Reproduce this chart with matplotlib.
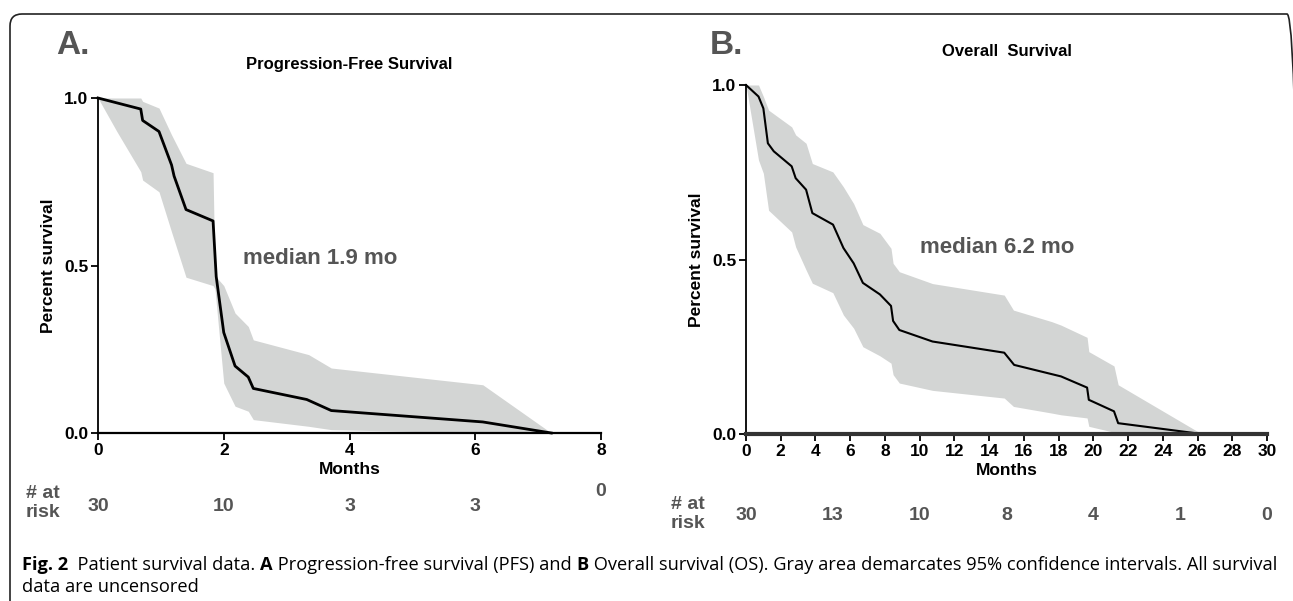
import matplotlib
matplotlib.use("Agg")
import matplotlib.pyplot as plt
from matplotlib.patches import FancyBboxPatch
from matplotlib.transforms import IdentityTransform

plt.rcParams['font.family'] = ['Liberation Sans Narrow', 'Liberation Sans', 'DejaVu Sans']

# progression-free survival (connected KM points) and 95% CI
pfs_t = [0, 0.68, 0.71, 0.97, 1.17, 1.21, 1.40, 1.83, 1.88, 2.0, 2.18, 2.39, 2.47, 3.32, 3.71, 6.12, 7.21]
pfs_s = [1.0, 0.967, 0.933, 0.90, 0.80, 0.767, 0.667, 0.633, 0.467, 0.30, 0.20, 0.167, 0.133, 0.10, 0.067, 0.033, 0.0]
pfs_ci_t = [0, 0.30, 0.68, 0.71, 0.97, 1.17, 1.40, 1.83, 1.86, 2.0, 2.18, 2.39, 2.47, 3.35, 3.71, 6.12, 7.21]
pfs_hi = [1.0, 1.0, 1.0, 0.99, 0.97, 0.89, 0.805, 0.777, 0.47, 0.44, 0.358, 0.318, 0.278, 0.234, 0.194, 0.144, 0.0]
pfs_lo = [1.0, 0.90, 0.78, 0.755, 0.72, 0.60, 0.465, 0.44, 0.43, 0.149, 0.08, 0.065, 0.04, 0.02, 0.01, 0.0, 0.0]

# overall survival and 95% CI
os_t = [0, 0.72, 1.0, 1.26, 1.6, 2.63, 2.86, 3.46, 3.82, 5.01, 5.61, 6.2, 6.73, 7.71, 8.35, 8.47, 8.83,
        10.74, 14.87, 15.44, 18.14, 19.64, 19.74, 21.19, 21.43, 26.25]
os_s = [1.0, 0.967, 0.933, 0.833, 0.81, 0.767, 0.733, 0.70, 0.633, 0.60, 0.533, 0.489, 0.433, 0.40, 0.367,
        0.324, 0.298, 0.265, 0.233, 0.198, 0.165, 0.133, 0.098, 0.065, 0.031, 0.0]
os_ci_t = [0, 0.72, 1.0, 1.3, 2.63, 2.86, 3.46, 3.82, 5.0, 5.61, 6.2, 6.73, 7.71, 8.35, 8.47, 8.83,
           10.74, 14.87, 15.4, 17.6, 18.14, 19.64, 19.74, 21.19, 21.43, 26.25]
os_hi = [1.0, 1.0, 0.967, 0.928, 0.88, 0.857, 0.833, 0.775, 0.751, 0.708, 0.66, 0.60, 0.575, 0.532,
         0.489, 0.465, 0.431, 0.398, 0.355, 0.322, 0.312, 0.277, 0.236, 0.195, 0.141, 0.0]
os_lo = [1.0, 0.785, 0.747, 0.641, 0.579, 0.536, 0.47, 0.432, 0.405, 0.341, 0.303, 0.25, 0.224, 0.203,
         0.17, 0.146, 0.125, 0.103, 0.079, 0.06, 0.055, 0.046, 0.022, 0.005, 0.0, 0.0]

pfs_risk_t = [0, 2, 4, 6]
pfs_risk_n = ['30', '10', '3', '3']
os_risk_t = [0, 5, 10, 15, 20, 25, 30]
os_risk_n = ['30', '13', '10', '8', '4', '1', '0']

caption1 = [('Fig. 2', True), ('  Patient survival data. ', False), ('A', True),
            (' Progression-free survival (PFS) and ', False), ('B', True),
            (' Overall survival (OS). Gray area demarcates 95% confidence intervals. All survival', False)]
caption2 = 'data are uncensored'

W, H = 1293, 601
fig = plt.figure(figsize=(W / 100, H / 100), dpi=100)

# rounded frame in pixel units (right edge runs off the picture)
frame = FancyBboxPatch((10, -40), W + 6 - 10, H - 14 + 40, transform=IdentityTransform(),
                       boxstyle="round,pad=0,rounding_size=12", fc='none', ec='#222222', lw=1.2)
fig.patches.append(frame)

GRAY = '#555555'
BAND = '#d3d5d4'


def px(x0, y0, x1, y1):
    return [x0 / W, 1 - y1 / H, (x1 - x0) / W, (y1 - y0) / H]


def style(ax, xmax, xticks, lw):
    ax.set_xlim(0, xmax)
    ax.set_ylim(0, 1)
    ax.set_xticks(xticks)
    ax.set_yticks([0, 0.5, 1.0])
    ax.set_yticklabels(['0.0', '0.5', '1.0'])
    for s in ['top', 'right']:
        ax.spines[s].set_visible(False)
    ax.spines['left'].set_linewidth(1.3)
    ax.spines['bottom'].set_linewidth(lw)
    ax.tick_params(direction='out', length=5, width=1.3, labelsize=12.5, pad=2)
    for lab in ax.get_xticklabels() + ax.get_yticklabels():
        lab.set_fontweight('bold')
    ax.set_xlabel('Months', fontsize=12.5, fontweight='bold', labelpad=3)
    ax.set_ylabel('Percent survival', fontsize=12.5, fontweight='bold', labelpad=6)
    ax.patch.set_alpha(0)


# panel A
axA = fig.add_axes(px(98, 98, 601, 433))
axA.fill_between(pfs_ci_t, pfs_lo, pfs_hi, color=BAND, lw=0)
axA.plot(pfs_t, pfs_s, color='black', lw=2, clip_on=False)
style(axA, 8, [0, 2, 4, 6, 8], 1.6)
axA.set_title('Progression-Free Survival', fontsize=12, fontweight='bold', pad=21)
axA.text(2.3, 0.52, 'median 1.9 mo', fontsize=16, fontweight='bold', color=GRAY, va='center')
for t, n in zip(pfs_risk_t, pfs_risk_n):
    axA.text(t, -0.22, n, transform=axA.get_xaxis_transform(), ha='center', va='center',
             fontsize=14, fontweight='bold', color=GRAY)
axA.text(8, -0.175, '0', transform=axA.get_xaxis_transform(), ha='center', va='center',
         fontsize=14, fontweight='bold', color=GRAY)
fig.text(43 / W, 1 - 503 / H, '# at\nrisk', ha='center', va='center', fontsize=14,
         fontweight='bold', color=GRAY, linespacing=1.1)
fig.text(56 / W, 1 - 46 / H, 'A.', fontsize=24, fontweight='bold', color=GRAY, va='center')

# panel B
axB = fig.add_axes(px(746, 85, 1267, 434))
axB.fill_between(os_ci_t, os_lo, os_hi, color=BAND, lw=0)
axB.plot(os_t, os_s, color='black', lw=1.5, clip_on=False)
style(axB, 30, list(range(0, 31, 2)), 3)
axB.spines['bottom'].set_color('#333333')
axB.set_title('Overall  Survival', fontsize=12, fontweight='bold', pad=21)
axB.text(10.0, 0.533, 'median 6.2 mo', fontsize=16, fontweight='bold', color=GRAY, va='center')
for t, n in zip(os_risk_t, os_risk_n):
    axB.text(t, -0.233, n, transform=axB.get_xaxis_transform(), ha='center', va='center',
             fontsize=14, fontweight='bold', color=GRAY)
fig.text(688 / W, 1 - 514 / H, '# at\nrisk', ha='center', va='center', fontsize=14,
         fontweight='bold', color=GRAY, linespacing=1.1)
fig.text(710 / W, 1 - 46 / H, 'B.', fontsize=24, fontweight='bold', color=GRAY, va='center')

# caption, laid out piece by piece so bold runs sit inline
CAP_FONT = ['Open Sans', 'DejaVu Sans']
r = fig.canvas.get_renderer()


def lay_caption(fs):
    x = 22
    items = []
    for txt, b in caption1:
        t = fig.text(x / W, 1 - 565 / H, txt, fontsize=fs, va='center', family=CAP_FONT,
                     fontweight='bold' if b else 'normal')
        x = t.get_window_extent(r).x1
        items.append(t)
    return x, items


end, items = lay_caption(11)
for t in items:
    t.remove()
fs = 11 * (1282 - 22) / (end - 22)
lay_caption(fs)
fig.text(22 / W, 1 - 587 / H, caption2, fontsize=fs, va='center', family=CAP_FONT)

fig.savefig('out.png', dpi=100)
